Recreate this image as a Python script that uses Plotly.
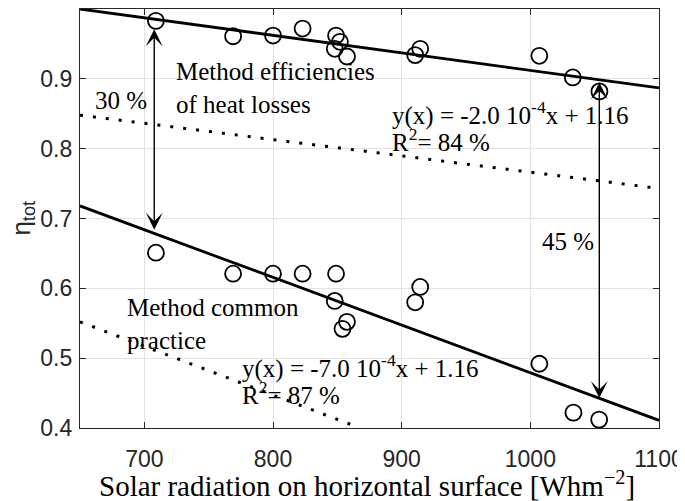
import plotly.graph_objects as go

# ---- data ----
radiation = [709, 769, 800, 823, 849, 852, 848, 857.5, 910.5, 914.4, 1007, 1033, 1053.7]
eta_heat_losses = [0.983, 0.961, 0.962, 0.972, 0.962, 0.953, 0.943, 0.932, 0.934, 0.943, 0.933, 0.902, 0.882]

radiation_cp = [709, 769, 800, 823, 849, 848, 857.5, 854, 914.4, 910.5, 1007, 1033.5, 1053.5]
eta_common = [0.651, 0.621, 0.621, 0.621, 0.621, 0.582, 0.552, 0.542, 0.602, 0.580, 0.492, 0.422, 0.412]

fit_x = [650, 1100]
fit_heat_losses = [1.0, 0.887]
fit_common = [0.718, 0.411]

limit_x = [650, 1100]
limit_heat_losses = [0.848, 0.743]
limit_common_x = [650, 862]
limit_common = [0.552, 0.404]

arrow_left_x = 707.7
arrow_left_y = [0.973, 0.684]
arrow_right_x = 1053.6
arrow_right_y = [0.897, 0.443]

xticks = [700, 800, 900, 1000, 1100]
yticks = [0.4, 0.5, 0.6, 0.7, 0.8, 0.9, 1.0]
ytick_text = ["0.4", "0.5", "0.6", "0.7", "0.8", "0.9", "1"]

SERIF = "Liberation Serif"
SANS = "Liberation Sans"

fig = go.Figure()

fig.add_trace(go.Scatter(x=fit_x, y=fit_heat_losses, mode="lines",
                         line=dict(color="black", width=2.8), showlegend=False))
fig.add_trace(go.Scatter(x=fit_x, y=fit_common, mode="lines",
                         line=dict(color="black", width=2.8), showlegend=False))
fig.add_trace(go.Scatter(x=limit_x, y=limit_heat_losses, mode="lines",
                         line=dict(color="black", width=3, dash="3px,10px"), showlegend=False))
fig.add_trace(go.Scatter(x=limit_common_x, y=limit_common, mode="lines",
                         line=dict(color="black", width=3, dash="3px,10px"), showlegend=False))
fig.add_trace(go.Scatter(x=radiation, y=eta_heat_losses, mode="markers",
                         marker=dict(symbol="circle-open", size=16, color="black",
                                     line=dict(width=1.8, color="black")),
                         showlegend=False))
fig.add_trace(go.Scatter(x=radiation_cp, y=eta_common, mode="markers",
                         marker=dict(symbol="circle-open", size=16, color="black",
                                     line=dict(width=1.8, color="black")),
                         showlegend=False))

# double arrows
for ax_x, ys in [(arrow_left_x, arrow_left_y), (arrow_right_x, arrow_right_y)]:
    fig.add_annotation(x=ax_x, y=ys[1], ax=ax_x, ay=ys[0], xref="x", yref="y",
                       axref="x", ayref="y", text="", showarrow=True,
                       arrowhead=3, startarrowhead=3, arrowside="end+start",
                       arrowsize=2.0, startarrowsize=2.0, arrowwidth=1.4,
                       arrowcolor="black", standoff=0, startstandoff=0)

tf = dict(family=SERIF, size=25, color="black")
texts = [
    (723.3, 0.887, "Method efficiencies<br>of heat losses", "left"),
    (682.2, 0.869, "30 %", "center"),
    (891.1, 0.851, "y(x) = -2.0 10<sup>-4</sup>x + 1.16", "left"),
    (891.1, 0.813, "R<sup>2</sup>= 84 %", "left"),
    (1029, 0.667, "45 %", "center"),
    (684.6, 0.5495, "Method common<br>practice", "left"),
    (774.5, 0.488, "y(x) = -7.0 10<sup>-4</sup>x + 1.16", "left"),
    (774.5, 0.450, "R<sup>2</sup>= 87 %", "left"),
]
for x, y, t, anchor in texts:
    fig.add_annotation(x=x, y=y, xref="x", yref="y", text=t, showarrow=False,
                       xanchor=anchor, yanchor="middle", align="left", font=tf)

# axis titles
fig.add_annotation(x=0.4957, y=-0.134, xref="paper", yref="paper",
                   text="Solar radiation on horizontal surface [Whm<sup>−2</sup>]",
                   showarrow=False, xanchor="center", yanchor="middle",
                   font=dict(family=SERIF, size=29, color="black"))
fig.add_annotation(x=-0.1, y=0.5, xref="paper", yref="paper",
                   text="η<sub>tot</sub>", textangle=-90,
                   showarrow=False, xanchor="center", yanchor="middle",
                   font=dict(family=SANS, size=26, color="#262626"))

axis_common = dict(showgrid=True, gridcolor="#e3e3e3", gridwidth=1,
                   showline=True, linecolor="#262626", linewidth=1.3,
                   mirror="ticks", ticks="inside", ticklen=6, tickwidth=1.3,
                   tickcolor="#262626", zeroline=False,
                   tickfont=dict(family=SANS, size=23, color="#262626"))

fig.update_xaxes(range=[650, 1100], tickvals=xticks, ticklabelstandoff=10, **axis_common)
fig.update_yaxes(range=[0.4, 1.0], tickvals=yticks, ticktext=ytick_text, ticklabelstandoff=2,
                 **axis_common)

# page body has an 8px default margin; size the figure to fit the 685x501 window
fig.update_layout(width=677, height=494,
                  margin=dict(l=72, r=26, t=1, b=74, autoexpand=False),
                  plot_bgcolor="white", paper_bgcolor="white", showlegend=False)

fig.write_html("out.html")
